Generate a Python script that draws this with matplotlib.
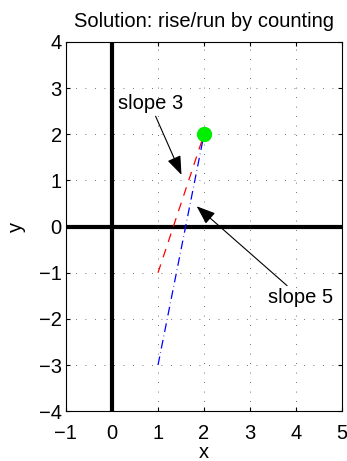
import matplotlib
matplotlib.use("Agg")
import matplotlib.pyplot as plt

plt.rcParams['font.family'] = ['Liberation Sans', 'DejaVu Sans']

# data
point = (2, 2)
red_x = [1, 2]
red_y = [-1, 2]
blue_x = [1, 2]
blue_y = [-3, 2]
xlim = (-1, 5)
ylim = (-4, 4)
xticks = [-1, 0, 1, 2, 3, 4, 5]
yticks = [-4, -3, -2, -1, 0, 1, 2, 3, 4]

fig = plt.figure(figsize=(3.47, 4.61), dpi=100)
ax = fig.add_axes([0.190, 0.108, 0.796, 0.801])

FS = 14.5

ax.plot([0, 0], ylim, color='black', lw=3, zorder=2)
ax.plot(xlim, [0, 0], color='black', lw=3, zorder=2)
ax.plot(red_x, red_y, color='red', ls=(0, (7, 6)), lw=0.9, zorder=3)
ax.plot(blue_x, blue_y, color='blue', ls=(0, (7, 3, 0.5, 3)), lw=0.9, zorder=3)
ax.plot([point[0]], [point[1]], 'o', color='#00ee00', ms=10, zorder=4)

ax.annotate('slope 3', xy=(1.51, 1.12), xytext=(0.83, 2.45),
            fontsize=FS, ha='center', va='bottom',
            arrowprops=dict(arrowstyle='-|>,head_length=0.8,head_width=0.3',
                            color='black', lw=0.8, shrinkA=0, shrinkB=0))
ax.annotate('slope 5', xy=(1.84, 0.44), xytext=(3.4, -1.34),
            fontsize=FS, ha='left', va='top',
            arrowprops=dict(arrowstyle='-|>,head_length=0.8,head_width=0.3',
                            color='black', lw=0.8, shrinkA=0, shrinkB=0))

ax.set_xlim(*xlim)
ax.set_ylim(*ylim)
ax.set_xticks(xticks)
ax.set_yticks(yticks)
ax.set_xticklabels([str(t).replace('-', '\u2212') for t in xticks])
ax.set_yticklabels([str(t).replace('-', '\u2212') for t in yticks])
ax.grid(True, ls=(0, (1, 10.4)), color='#444444', lw=0.6)
ax.tick_params(direction='in', length=3, labelsize=FS, top=True, right=True, pad=3)
ax.tick_params(axis='x', pad=9)
for s in ax.spines.values():
    s.set_linewidth(0.8)
ax.set_xlabel('x', fontsize=FS, labelpad=0)
ax.set_ylabel('y', fontsize=FS, labelpad=9)
ax.set_title('Solution: rise/run by counting', fontsize=FS, pad=11)

fig.savefig('out.png', dpi=100)
